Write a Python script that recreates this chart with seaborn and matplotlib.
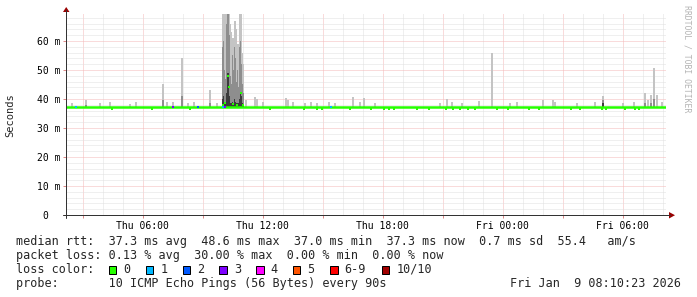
import numpy as np
import pandas as pd
import matplotlib
matplotlib.use("Agg")
import matplotlib.pyplot as plt
import seaborn as sns
from matplotlib.patches import Rectangle, Polygon
from matplotlib.lines import Line2D
from matplotlib.ticker import MultipleLocator, FuncFormatter

# ---------------- data (hours since Thu 00:00, milliseconds) ----------------
t_start, t_end = 2.17, 32.17
y_top_ms = 69.3

median_t = [2.17, 32.17]
median_ms = [37.3, 37.3]

# short median excursions (burst around Thu 10:00-11:00)
median_frag_t = [10.00, 10.10, 10.27, 10.31, 10.50, 10.70, 10.92, 11.00]
median_frag_ms = [38.0, 38.5, 48.0, 44.0, 38.2, 37.9, 42.0, 38.0]

dip_t = [4.47, 6.47, 8.37, 12.37, 14.07, 14.72, 14.97, 16.37, 17.42, 18.07, 18.32, 18.57,
         19.72, 20.32, 21.17, 21.52, 21.87, 22.27, 22.62, 23.72, 24.27, 25.32, 25.82,
         27.42, 27.87, 28.97, 29.17, 30.12, 30.62, 30.82]
dip_ms = [36.6] * len(dip_t)

smoke_floor_ms = 36.9
smoke_t = [2.47, 3.17, 3.87, 4.37, 5.37, 5.67, 7.02, 7.22, 7.52, 7.97, 8.27, 8.57, 9.37, 9.72,
           10.00, 10.05, 10.10, 10.15, 10.20, 10.25, 10.30, 10.35, 10.40, 10.45, 10.50,
           10.55, 10.60, 10.65, 10.70, 10.75, 10.80, 10.85, 10.90, 10.95, 11.00, 11.05,
           11.17, 11.62, 11.72, 12.02, 13.17, 13.27, 13.52, 14.12, 14.42, 14.72, 15.32, 15.62,
           16.52, 16.87, 17.07, 17.62, 20.87, 21.22, 21.47, 21.97, 22.82, 23.47, 24.37, 24.72,
           26.02, 26.52, 26.62, 27.72, 28.62, 29.02, 30.02, 30.57, 31.12, 31.27, 31.42, 31.57,
           31.72, 31.97]
smoke_outer = [38.6, 39.6, 38.5, 38.8, 38.4, 38.8, 45.0, 39.0, 38.8, 54.0, 38.6, 39.0, 43.0, 38.5,
               69.2, 69.2, 69.2, 69.2, 69.2, 69.2, 69.2, 69.2, 66.0, 63.0, 61.0,
               61.0, 67.0, 67.0, 64.0, 59.0, 59.0, 69.2, 69.2, 69.2, 56.0, 52.0,
               39.6, 40.7, 40.0, 39.0, 40.3, 39.6, 38.8, 38.5, 39.0, 38.6, 39.0, 38.5,
               40.7, 39.0, 40.3, 38.6, 38.5, 40.0, 39.0, 38.6, 39.3, 56.0, 38.6, 39.0,
               39.6, 39.6, 38.8, 38.6, 38.8, 41.0, 38.6, 38.8, 42.0, 39.6, 41.5, 50.7,
               41.4, 39.0]
nan = float("nan")
smoke_mid = [nan, 38.0, nan, nan, nan, nan, 39.5, nan, nan, 41.0, nan, nan, 38.5, nan,
             58.0, 60.0, 50.0, 47.0, 66.0, 69.2, 69.2, 62.0, 48.0, 45.0, 55.0,
             50.0, 58.0, 54.0, 46.0, 50.0, 44.0, 58.0, 60.0, 52.0, 45.0, 42.0,
             nan, nan, nan, nan, nan, nan, nan, nan, nan, nan, nan, nan,
             nan, nan, nan, nan, nan, nan, nan, nan, nan, nan, nan, nan,
             nan, nan, nan, nan, nan, 39.5, nan, nan, 38.5, nan, 38.5, 40.0,
             nan, nan]
smoke_inner = [nan] * 14 + [40.0, 41.0, 39.0, 39.0, 42.0, 49.0, 49.0, 41.0, 38.5, 38.5, 39.0,
                            38.5, 40.0, 39.0, 38.5, 38.5, 38.5, 40.0, 42.0, 41.0, 38.5, 38.0] + \
              [nan] * 29 + [38.5] + [nan] * 8

loss_t = [2.67, 7.52, 8.77, 10.02, 10.12, 15.42]
loss_n = [1, 3, 2, 1, 3, 1]

loss_labels = ["0", "1", "2", "3", "4", "5", "6-9", "10/10"]
loss_colors = ["#26ff00", "#00b8ff", "#0059ff", "#7e00ff", "#ff00ff", "#ff5500", "#ff0000", "#a10000"]

xtick_hours = [6, 12, 18, 24, 30]
xtick_labels = ["Thu 06:00", "Thu 12:00", "Thu 18:00", "Fri 00:00", "Fri 06:00"]

legend_rtt = "median rtt:  37.3 ms avg  48.6 ms max  37.0 ms min  37.3 ms now  0.7 ms sd  55.4   am/s"
legend_loss = "packet loss: 0.13 % avg  30.00 % max  0.00 % min  0.00 % now"
legend_color = "loss color:"
legend_probe = "probe:       10 ICMP Echo Pings (56 Bytes) every 90s"
legend_date = "Fri Jan  9 08:10:23 2026"
watermark = "RRDTOOL / TOBI OETIKER"
ylabel = "Seconds"

# ---------------- drawing ----------------
sns.set_theme(style="white")
plt.rcParams["font.family"] = ["DejaVu Sans Mono"]

W, H = 697, 297
fig = plt.figure(figsize=(W / 100, H / 100), dpi=100)
fig.patch.set_facecolor("white")

def fx(px):
    return px / W

def fy(py):
    return 1 - py / H

ax = fig.add_axes([fx(66), fy(215), 600 / W, 201 / H])
ax.set_facecolor("white")
ax.set_xlim(t_start, t_end)
ax.set_ylim(0, y_top_ms)

# smoke
smoke = pd.DataFrame({"t": smoke_t, "outer": smoke_outer, "mid": smoke_mid, "inner": smoke_inner})
for col, color in [("outer", "#c4c4c4"), ("mid", "#8e8e8e"), ("inner", "#3c3c3c")]:
    d = smoke.dropna(subset=[col])
    ax.bar(d["t"], d[col] - smoke_floor_ms, bottom=smoke_floor_ms, width=0.06,
           color=color, linewidth=0, zorder=2)

# median line
med = pd.DataFrame({"t": median_t, "ms": median_ms})
sns.lineplot(data=med, x="t", y="ms", ax=ax, color=loss_colors[0], linewidth=1.8,
             estimator=None, sort=False, zorder=3)
ax.scatter(median_frag_t, median_frag_ms, marker="s", s=4, color=loss_colors[0], linewidths=0, zorder=3)
ax.scatter(dip_t, dip_ms, marker="s", s=2.2, color=loss_colors[0], linewidths=0, zorder=3)
ax.scatter(loss_t, [37.3] * len(loss_t), marker="s", s=3.5,
           color=[loss_colors[n] for n in loss_n], linewidths=0, zorder=4)

# grid & ticks
ax.xaxis.set_major_locator(MultipleLocator(3))
ax.xaxis.set_minor_locator(MultipleLocator(1))
ax.yaxis.set_major_locator(MultipleLocator(10))
ax.yaxis.set_minor_locator(MultipleLocator(2))
lab = dict(zip(xtick_hours, xtick_labels))
ax.xaxis.set_major_formatter(FuncFormatter(lambda v, p: lab.get(int(round(v)), "")))
ax.yaxis.set_major_formatter(FuncFormatter(lambda v, p: f"{int(round(v))} m" if v > 0.5 else "0  "))
ax.grid(which="major", color="#f5b8b8", linestyle=(0, (1, 1)), linewidth=0.72)
ax.grid(which="minor", color="#e0e0e0", linestyle=(0, (1, 1)), linewidth=0.72)
ax.set_axisbelow(True)
for s in ax.spines.values():
    s.set_visible(False)
ax.tick_params(axis="both", which="major", labelsize=7, colors="#e08a8a", labelcolor="#000000",
               length=2, width=0.72, direction="out")
ax.tick_params(axis="both", which="minor", colors="#aaaaaa", length=2, width=0.72, direction="out")
ax.tick_params(axis="x", which="major", pad=2.5)
ax.tick_params(axis="y", which="major", pad=2.2)
ax.set_xlabel("")
ax.set_ylabel("")
ax.tick_params(left=True, bottom=True)

# axis lines and arrows
fig.add_artist(Line2D([fx(66), fx(66)], [fy(218), fy(10)], color="#333333", lw=0.72))
fig.add_artist(Line2D([fx(63), fx(670)], [fy(215), fy(215)], color="#333333", lw=0.72))
fig.add_artist(Polygon([[fx(63), fy(12)], [fx(69.5), fy(12)], [fx(66.2), fy(7)]],
                       closed=True, color="#990000", lw=0))
fig.add_artist(Polygon([[fx(669), fy(212)], [fx(669), fy(218.5)], [fx(675), fy(215.2)]],
                       closed=True, color="#990000", lw=0))

# labels
fig.text(fx(10.5), fy(115), ylabel, rotation=90, ha="center", va="center", fontsize=7.5)
fig.text(fx(686.5), fy(59), watermark, rotation=270, ha="center", va="center",
         fontsize=5.9, color="#b4b4b4")

# legend block
fs = 8.5
fig.text(fx(16), fy(245), legend_rtt, fontsize=fs, va="baseline")
fig.text(fx(16), fy(259), legend_loss, fontsize=fs, va="baseline")
fig.text(fx(16), fy(273), legend_color, fontsize=fs, va="baseline")
fig.text(fx(16), fy(287), legend_probe, fontsize=fs, va="baseline")
fig.text(fx(681), fy(287), legend_date, fontsize=fs, va="baseline", ha="right")
box_left = [108.7, 145.7, 182.7, 219.3, 256.0, 292.7, 330.0, 381.7]
for bl, c, l in zip(box_left, loss_colors, loss_labels):
    fig.add_artist(Rectangle((fx(bl), fy(273.5)), 7.5 / W, 7.5 / H, facecolor=c,
                             edgecolor="black", lw=0.72))
    fig.text(fx(bl + 14.6), fy(273), l, fontsize=fs, va="baseline")

fig.savefig("out.png", dpi=100, facecolor="white")
